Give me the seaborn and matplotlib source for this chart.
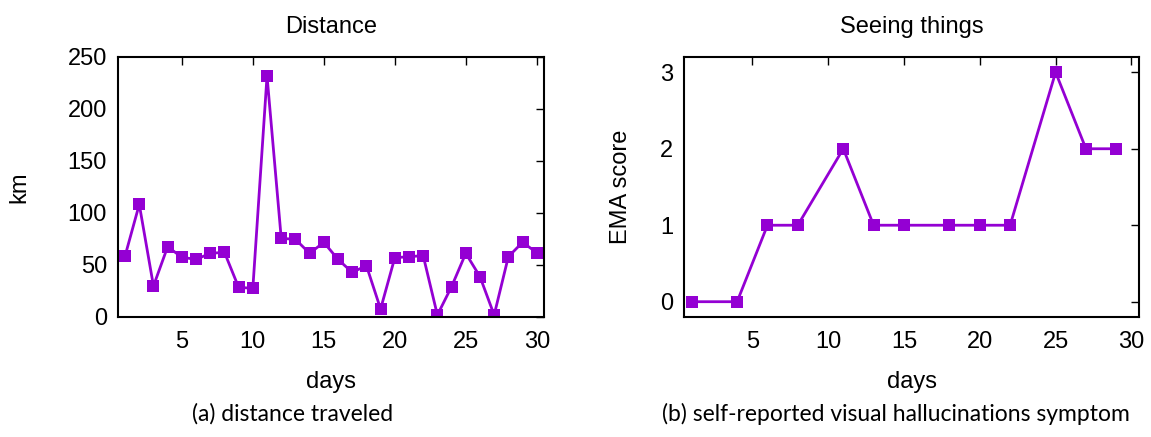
import pandas as pd
import seaborn as sns
from matplotlib import pyplot as plt

# distance traveled per day (km)
dist_days = list(range(1, 31))
dist_km = [58.7, 108.3, 29.8, 67.6, 57.4, 55.4, 61.2, 62.2, 28.5, 27.6,
           231.7, 75.6, 74.7, 61.2, 71.8, 55.4, 42.9, 49.4, 7.7, 57.0,
           58.0, 59.0, 1.9, 29.2, 61.2, 38.8, 1.9, 58.0, 71.8, 61.9]

# EMA score for seeing things
ema_days = [1, 4, 6, 8, 11, 13, 15, 18, 20, 22, 25, 27, 29]
ema_score = [0, 0, 1, 1, 2, 1, 1, 1, 1, 1, 3, 2, 2]

color = "#9400D3"

sns.set_style("white")
plt.rcParams["font.family"] = ["Liberation Sans", "DejaVu Sans"]
plt.rcParams["text.color"] = "black"
plt.rcParams["axes.labelcolor"] = "black"
plt.rcParams["xtick.color"] = "black"
plt.rcParams["ytick.color"] = "black"

fig = plt.figure(figsize=(11.51, 4.37), dpi=100)
ax1 = fig.add_axes([0.1025, 0.2746, 0.370, 0.595])
ax2 = fig.add_axes([0.5943, 0.2746, 0.3953, 0.595])

df1 = pd.DataFrame({"days": dist_days, "km": dist_km})
df2 = pd.DataFrame({"days": ema_days, "EMA score": ema_score})

sns.lineplot(data=df1, x="days", y="km", ax=ax1, color=color, marker="s",
             markersize=9, markeredgewidth=0, linewidth=2)
sns.lineplot(data=df2, x="days", y="EMA score", ax=ax2, color=color, marker="s",
             markersize=9, markeredgewidth=0, linewidth=2)

ax1.set_xlim(0.5, 30.5)
ax1.set_ylim(0, 250)
ax1.set_xticks([5, 10, 15, 20, 25, 30])
ax1.set_yticks([0, 50, 100, 150, 200, 250])
ax1.set_title("Distance", fontsize=17, pad=17)

ax2.set_xlim(0.5, 30.5)
ax2.set_ylim(-0.2, 3.2)
ax2.set_xticks([5, 10, 15, 20, 25, 30])
ax2.set_yticks([0, 1, 2, 3])
ax2.set_title("Seeing things", fontsize=17, pad=17)

for ax in (ax1, ax2):
    ax.tick_params(direction="in", length=6, width=1, labelsize=17,
                   top=True, right=True)
    ax.tick_params(axis="x", pad=10)
    ax.tick_params(axis="y", pad=8)
    ax.xaxis.label.set_size(17)
    ax.yaxis.label.set_size(17)
    ax.xaxis.labelpad = 13
    for s in ax.spines.values():
        s.set_linewidth(1.5)
        s.set_color("black")

ax1.yaxis.labelpad = 27
ax2.yaxis.labelpad = 20

cap_font = ["Lato", "DejaVu Sans"]
fig.text(0.254, 0.053, "(a) distance traveled", ha="center", va="center",
         fontsize=16.5, family=cap_font)
fig.text(0.778, 0.053, "(b) self-reported visual hallucinations symptom",
         ha="center", va="center", fontsize=16.5, family=cap_font)

fig.savefig("out.png", dpi=100)
